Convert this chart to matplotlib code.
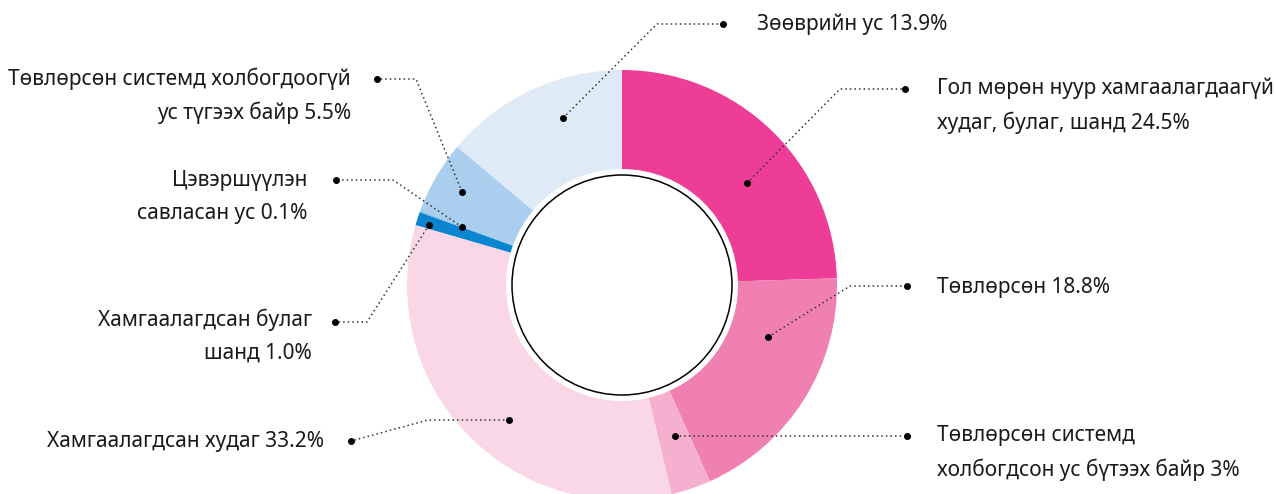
import matplotlib.pyplot as plt

plt.rcParams['font.family'] = ['Noto Sans', 'DejaVu Sans']

# shares in %, clockwise from 12 o'clock
labels = [
    "Гол мөрөн нуур хамгаалагдаагүй\nхудаг, булаг, шанд 24.5%",
    "Төвлөрсөн 18.8%",
    "Төвлөрсөн системд\nхолбогдсон ус бүтээх байр 3%",
    "Хамгаалагдсан худаг 33.2%",
    "Хамгаалагдсан булаг\nшанд 1.0%",
    "Цэвэршүүлэн\nсавласан ус 0.1%",
    "Төвлөрсөн системд холбогдоогүй\nус түгээх байр 5.5%",
    "Зөөврийн ус 13.9%",
]
values = [24.5, 18.8, 3, 33.2, 1.0, 0.1, 5.5, 13.9]
colors = ["#EE3D96", "#F080B1", "#F6B0CF", "#FAD7E7",
          "#0A85D0", "#7DB8E6", "#AACFEE", "#DFEAF7"]

# leader lines (pixel coords): dot in wedge, elbow, outer dot, text pos, alignment
leaders = [
    ((747, 183), (840, 89), (905, 89), (937, 106), 'left'),
    ((768, 337), (850, 286), (907, 286), (937, 287), 'left'),
    ((675, 436), (675, 436), (907, 436), (937, 453), 'left'),
    ((509, 420), (428, 420), (351, 441), (324, 441), 'right'),
    ((429, 225), (367, 322), (335, 322), (312, 336), 'right'),
    ((462, 227), (393, 180), (336, 180), (307, 197), 'right'),
    ((462, 192), (416, 79), (377, 79), (351, 96), 'right'),
    ((563, 118), (657, 24), (723, 24), (757, 24), 'left'),
]

cx, cy, r_out = 622, 285, 215

fig = plt.figure(figsize=(12.76, 4.94), dpi=100)
ax = fig.add_axes([0, 0, 1, 1])

ax.pie(values, colors=colors, radius=r_out, center=(cx, cy),
       startangle=-90, counterclock=True,
       wedgeprops=dict(width=99, linewidth=0))
ax.add_patch(plt.Circle((cx, cy), 110, facecolor='white',
                        edgecolor='black', linewidth=1.1, zorder=3))

for (lab, (p0, p1, p2, pt, ha)) in zip(labels, leaders):
    ax.plot([p0[0], p1[0], p2[0]], [p0[1], p1[1], p2[1]],
            linestyle=(0, (1, 2)), color='#333333', linewidth=1.1, zorder=4)
    ax.plot([p0[0], p2[0]], [p0[1], p2[1]], 'o', color='black',
            markersize=4, zorder=5)
    ax.text(pt[0], pt[1], lab, ha=ha, va='center', fontsize=15,
            color='#1a1a1a', linespacing=1.7, multialignment=ha)

ax.set_xlim(0, 1276)
ax.set_ylim(494, 0)
ax.set_aspect('equal')
ax.axis('off')

fig.savefig('out.png', dpi=100)
